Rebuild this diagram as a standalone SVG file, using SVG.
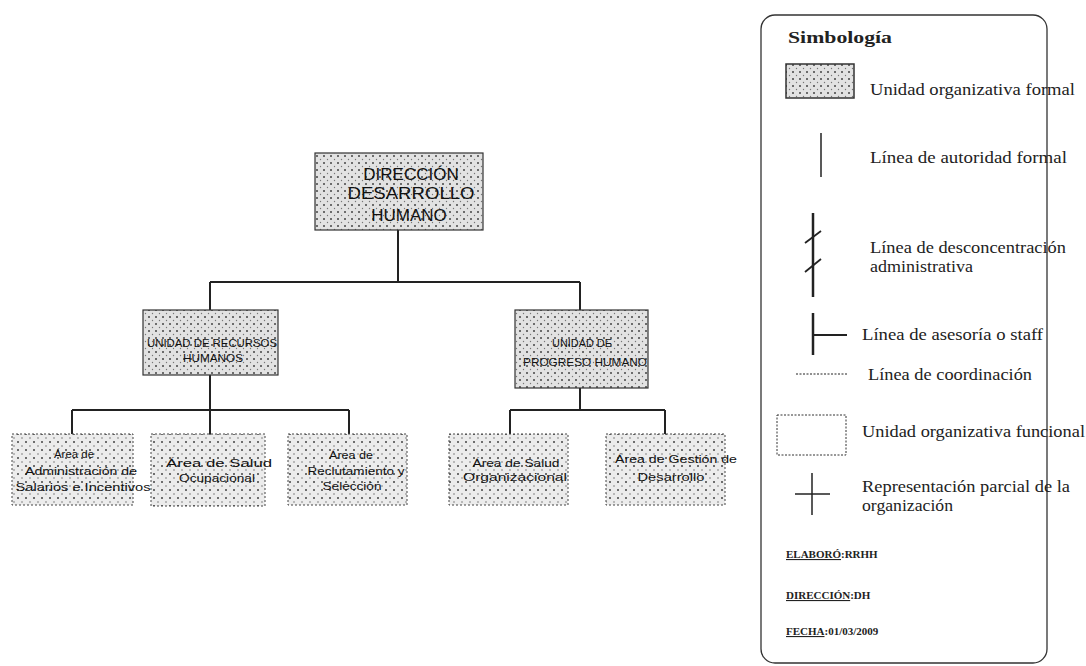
<svg xmlns="http://www.w3.org/2000/svg" width="1086" height="666" viewBox="0 0 1086 666">
<defs>
<pattern id="dots" width="7" height="7" patternUnits="userSpaceOnUse">
<rect width="7" height="7" fill="#e2e2e2"/>
<circle cx="2" cy="2" r="1" fill="#444"/>
<circle cx="5.5" cy="5.5" r="0.7" fill="#777"/>
</pattern>
<pattern id="dots2" width="8" height="8" patternUnits="userSpaceOnUse">
<rect width="8" height="8" fill="#ececec"/>
<circle cx="2" cy="2" r="1" fill="#444"/>
<circle cx="6" cy="6" r="0.8" fill="#777"/>
</pattern>
</defs>
<style>
.box{fill:url(#dots);stroke:#333;stroke-width:1.2}
.fbox{fill:url(#dots2);stroke:#444;stroke-width:1;stroke-dasharray:2 2}
.conn{stroke:#222;stroke-width:2;fill:none}
.t{font-family:"Liberation Sans",Arial,sans-serif;fill:#111;text-anchor:middle}
.c{font-family:"Liberation Sans",Arial,sans-serif;fill:#111;text-anchor:middle;font-size:11px}
.s{font-family:"Liberation Serif","Times New Roman",serif;fill:#222;font-size:16.5px}
.f{font-family:"Liberation Serif","Times New Roman",serif;fill:#222;font-size:11px;font-weight:bold}
.leg{stroke:#222;fill:none}
</style>
<rect width="1086" height="666" fill="#fff"/>

<g id="connectors">
<path class="conn" d="M398 230V282M210 282H580M210 282V310M580 282V310"/>
<path class="conn" d="M210 375V410M72 410H349M72 410V434M210 410V434M349 410V434" stroke-width="1.5"/>
<path class="conn" d="M580 388V410M510 410H665M510 410V434M665 410V434" stroke-width="1.5"/>
</g>

<g id="n-direccion">
<rect class="box" x="315" y="153" width="168" height="77"/>
<text class="t" font-size="17" x="411" y="180">DIRECCIÓN</text>
<text class="t" font-size="17" x="411" y="199" textLength="127" lengthAdjust="spacingAndGlyphs">DESARROLLO</text>
<text class="t" font-size="17" x="409" y="221">HUMANO</text>
</g>

<g id="n-recursos">
<rect class="box" x="143" y="310" width="135" height="65"/>
<text class="t" font-size="11.5" x="212" y="347" textLength="130" lengthAdjust="spacingAndGlyphs">UNIDAD DE RECURSOS</text>
<text class="t" font-size="11.5" x="213" y="362" textLength="60" lengthAdjust="spacingAndGlyphs">HUMANOS</text>
</g>

<g id="n-progreso">
<rect class="box" x="515" y="310" width="133" height="78"/>
<text class="t" font-size="11.5" x="582" y="347" textLength="60" lengthAdjust="spacingAndGlyphs">UNIDAD DE</text>
<text class="t" font-size="11.5" x="585" y="366" textLength="124" lengthAdjust="spacingAndGlyphs">PROGRESO HUMANO</text>
</g>

<g id="n-salarios">
<rect class="fbox" x="12" y="434" width="121" height="71"/>
<text class="c" x="74" y="458" textLength="40" lengthAdjust="spacingAndGlyphs">Área de</text>
<text class="c" x="81" y="475" textLength="112" lengthAdjust="spacingAndGlyphs">Administración de</text>
<text class="c" x="83" y="491" textLength="135" lengthAdjust="spacingAndGlyphs">Salarios e Incentivos</text>
</g>

<g id="n-salud-ocup">
<rect class="fbox" x="151" y="434" width="114" height="72"/>
<text class="c" x="219" y="467" textLength="106" lengthAdjust="spacingAndGlyphs">Área de Salud</text>
<text class="c" x="217" y="482" textLength="76" lengthAdjust="spacingAndGlyphs">Ocupacional</text>
</g>

<g id="n-reclutamiento">
<rect class="fbox" x="288" y="434" width="119" height="71"/>
<text class="c" x="351" y="459" textLength="44" lengthAdjust="spacingAndGlyphs">Área de</text>
<text class="c" x="356" y="475" textLength="97" lengthAdjust="spacingAndGlyphs">Reclutamiento y</text>
<text class="c" x="352" y="490" textLength="59" lengthAdjust="spacingAndGlyphs">Selección</text>
</g>

<g id="n-salud-org">
<rect class="fbox" x="449" y="434" width="119" height="71"/>
<text class="c" x="516" y="467" textLength="87" lengthAdjust="spacingAndGlyphs">Área de Salud</text>
<text class="c" x="515" y="481" textLength="104" lengthAdjust="spacingAndGlyphs">Organizacional</text>
</g>

<g id="n-gestion">
<rect class="fbox" x="606" y="434" width="119" height="71"/>
<text class="c" x="676" y="463" textLength="122" lengthAdjust="spacingAndGlyphs">Área de Gestión de</text>
<text class="c" x="671" y="481" textLength="67" lengthAdjust="spacingAndGlyphs">Desarrollo</text>
</g>

<g id="legend">
<rect x="761" y="15" width="286" height="648" rx="14" fill="none" stroke="#333" stroke-width="1.3"/>
<text class="s" x="788" y="43" font-size="19" font-weight="bold" textLength="104" lengthAdjust="spacingAndGlyphs">Simbología</text>
<rect x="786" y="64" width="68" height="34" fill="url(#dots)" stroke="#333" stroke-width="1.5"/>
<text class="s" x="870" y="95" textLength="205" lengthAdjust="spacingAndGlyphs">Unidad organizativa  formal</text>
<line class="leg" x1="821" y1="133" x2="821" y2="177" stroke-width="1.5"/>
<text class="s" x="870" y="163" textLength="197" lengthAdjust="spacingAndGlyphs">Línea de autoridad  formal</text>
<line class="leg" x1="813" y1="213" x2="813" y2="297" stroke-width="2.5"/>
<path class="leg" d="M805 243L821 231M805 272L821 259" stroke-width="1.8"/>
<text class="s" x="870" y="253" textLength="196" lengthAdjust="spacingAndGlyphs">Línea de desconcentración</text>
<text class="s" x="870" y="272" textLength="103" lengthAdjust="spacingAndGlyphs">administrativa</text>
<line class="leg" x1="813" y1="313" x2="813" y2="355" stroke-width="2.5"/>
<line class="leg" x1="813" y1="335" x2="847" y2="335" stroke-width="1.8"/>
<text class="s" x="862" y="340" textLength="181" lengthAdjust="spacingAndGlyphs">Línea de asesoría o staff</text>
<line class="leg" x1="796" y1="374" x2="848" y2="374" stroke-width="1" stroke-dasharray="2 1.5"/>
<text class="s" x="868" y="380" textLength="164" lengthAdjust="spacingAndGlyphs">Línea de coordinación</text>
<rect x="777" y="415" width="69" height="40" fill="none" stroke="#333" stroke-width="1" stroke-dasharray="2 1.5"/>
<text class="s" x="862" y="437" textLength="223" lengthAdjust="spacingAndGlyphs">Unidad organizativa funcional</text>
<line class="leg" x1="812" y1="473" x2="812" y2="515" stroke-width="1.5"/>
<line class="leg" x1="795" y1="494" x2="830" y2="494" stroke-width="1.5"/>
<text class="s" x="862" y="492" textLength="208" lengthAdjust="spacingAndGlyphs">Representación parcial de la</text>
<text class="s" x="862" y="511" textLength="91" lengthAdjust="spacingAndGlyphs">organización</text>
<text class="f" x="786" y="558"><tspan text-decoration="underline">ELABORÓ</tspan>:RRHH</text>
<text class="f" x="786" y="599"><tspan text-decoration="underline">DIRECCIÓN</tspan>:DH</text>
<text class="f" x="786" y="635"><tspan text-decoration="underline">FECHA</tspan>:01/03/2009</text>
</g>
</svg>
